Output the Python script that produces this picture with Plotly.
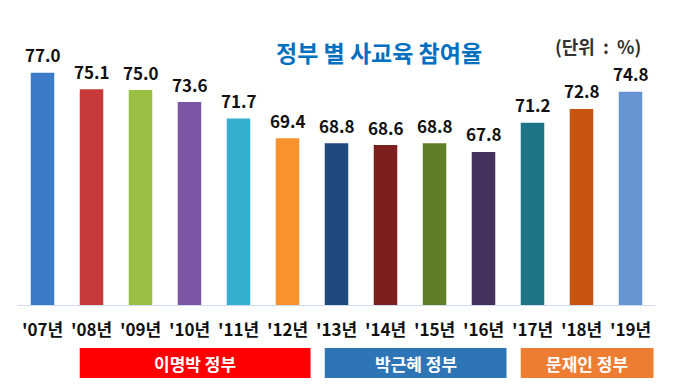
import plotly.graph_objects as go

years = ["'07년", "'08년", "'09년", "'10년", "'11년", "'12년", "'13년",
         "'14년", "'15년", "'16년", "'17년", "'18년", "'19년"]
rates = [77.0, 75.1, 75.0, 73.6, 71.7, 69.4, 68.8, 68.6, 68.8, 67.8, 71.2, 72.8, 74.8]
bar_colors = ["#3C7BC8", "#C83A3A", "#9BBF45", "#7C56A5", "#36AED0", "#F7922F",
              "#1F4A7E", "#7E1F1F", "#5F7F27", "#46305F", "#1E7386", "#C75410", "#6694D2"]

gov_names = ["이명박 정부", "박근혜 정부", "문재인 정부"]
gov_first = [1, 6, 10]   # index of first year in group
gov_last = [5, 9, 12]    # index of last year in group
gov_colors = ["#FF0000", "#2E75B6", "#ED7D31"]

FONT = "Noto Sans CJK KR"

xs = list(range(len(years)))
fig = go.Figure()
fig.add_trace(go.Bar(
    x=xs, y=rates,
    marker=dict(color=bar_colors, line=dict(width=0)),
    hoverinfo="skip",
))

W, H = 680, 384
ml, mr, mt, mb = 18, 25, 47, 79
pw, ph = W - ml - mr, H - mt - mb

shapes = []
annotations = []
for x, v in zip(xs, rates):
    annotations.append(dict(x=x, y=v, xref="x", yref="y", xanchor="center", yanchor="middle",
                            yshift=18, text=f"<b>{v:.1f}</b>", showarrow=False,
                            font=dict(family=FONT, size=17, color="#111111")))

for name, a, b, c in zip(gov_names, gov_first, gov_last, gov_colors):
    x0 = a - 0.24
    x1 = b + 0.47
    shapes.append(dict(type="rect", xref="x", yref="paper", x0=x0, x1=x1,
                       y0=-(378 - (H - mb)) / ph, y1=-(348 - (H - mb)) / ph,
                       fillcolor=c, line=dict(width=0), layer="above"))
    annotations.append(dict(x=(x0 + x1) / 2, y=-(363 - (H - mb)) / ph, xref="x", yref="paper",
                            xanchor="center", yanchor="middle",
                            text=f"<b>{name}</b>", showarrow=False,
                            font=dict(family=FONT, size=17, color="white")))

for txt, px, py, size, col in [("<b>정부 별 사교육 참여율</b>", 379, 52, 23, "#0070C0"),
                               ("<b>(단위&nbsp; : &nbsp;%)</b>", 598, 46, 18, "#333333")]:
    annotations.append(dict(x=(px - ml) / pw, y=(H - mb - py) / ph, xref="paper", yref="paper",
                            xanchor="center", yanchor="middle", text=txt, showarrow=False,
                            font=dict(family=FONT, size=size, color=col)))

fig.update_layout(
    width=W, height=H,
    margin=dict(l=ml, r=mr, t=mt, b=mb),
    paper_bgcolor="white", plot_bgcolor="white",
    showlegend=False, bargap=0.52,
    shapes=shapes, annotations=annotations,
    xaxis=dict(tickmode="array", tickvals=xs,
               ticktext=[f"<b>{y}</b>" for y in years],
               range=[-0.5, len(years) - 0.5],
               showline=True, linecolor="#CFDCEF", linewidth=1,
               showgrid=False, ticks="", ticklabelstandoff=10,
               tickfont=dict(family=FONT, size=17, color="#111111")),
    yaxis=dict(range=[50, 80], visible=False, showgrid=False),
)

fig.write_html("out.html", config={"displayModeBar": False},
               post_script="document.body.style.margin='0';")
